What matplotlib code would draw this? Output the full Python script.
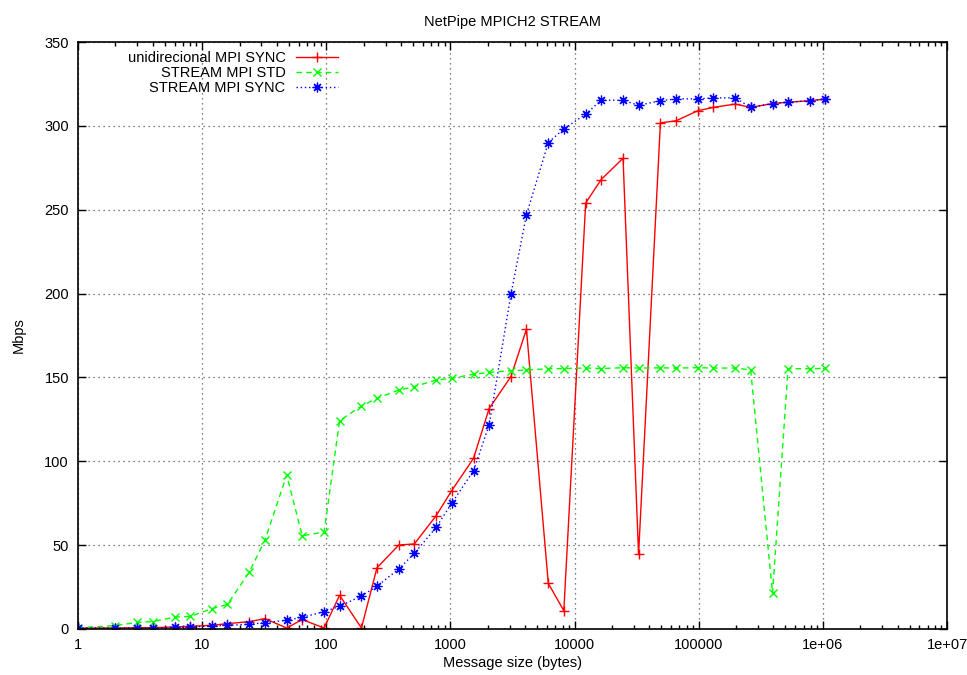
import matplotlib
matplotlib.use("Agg")
import matplotlib.pyplot as plt
from matplotlib.ticker import LogLocator, NullFormatter

plt.rcParams['font.family'] = ['Liberation Sans', 'DejaVu Sans']
plt.rcParams['font.size'] = 10.5

# message sizes (bytes)
sizes = [1, 2, 3, 4, 6, 8, 12, 16, 24, 32, 48, 64, 96, 128, 192, 256, 384, 512,
         768, 1024, 1536, 2048, 3072, 4096, 6144, 8192, 12288, 16384, 24576,
         32768, 49152, 65536, 98304, 131072, 196608, 262144, 393216, 524288,
         786432, 1048576]

# Mbps
uni_sync = [0.6, 0.6, 0.8, 0.8, 1.2, 1.6, 2.2, 3.2, 4.4, 6.2, 0.6, 5.6, 0.6,
            20.1, 0.6, 36.5, 50.1, 50.7, 67.6, 82.5, 101.8, 131.4, 150.5, 178.7,
            27.2, 10.9, 254.0, 268.0, 280.7, 44.5, 301.8, 303.0, 309.0, 311.0,
            313.0, 311.0, 313.3, 314.1, 315.0, 316.0]
stream_std = [0.8, 2.0, 4.0, 4.4, 7.1, 7.5, 12.1, 14.7, 34.0, 52.9, 91.8, 55.6,
              57.8, 124.2, 133.0, 137.5, 142.5, 144.5, 148.5, 149.5, 151.9, 153.0,
              154.0, 154.4, 155.2, 155.3, 155.6, 155.3, 155.8, 155.6, 155.7, 155.6,
              155.8, 155.6, 155.6, 154.5, 21.3, 155.2, 155.2, 155.4]
stream_sync = [0.6, 0.6, 0.6, 0.6, 1.0, 1.2, 1.8, 2.2, 2.8, 3.8, 5.2, 7.0, 10.3,
               13.5, 19.7, 25.5, 35.8, 45.1, 60.6, 75.0, 94.4, 121.5, 199.5, 247.0,
               290.0, 298.2, 307.0, 315.3, 315.3, 312.2, 315.0, 316.1, 316.1, 316.7,
               316.7, 311.0, 313.3, 314.1, 315.0, 316.0]

xticks = [1, 10, 100, 1000, 10000, 100000, 1000000, 10000000]
xtick_labels = ["1", "10", "100", "1000", "10000", "100000", "1e+06", "1e+07"]
yticks = [0, 50, 100, 150, 200, 250, 300, 350]

fig = plt.figure(figsize=(9.67, 6.75), dpi=100)
ax = fig.add_axes([78 / 967, 1 - 629 / 675, 869 / 967, 587 / 675])

ax.plot(sizes, uni_sync, color='#ff0000', lw=1, ls='-', marker='+', ms=7,
        mew=1, label='unidirecional MPI SYNC')
ax.plot(sizes, stream_std, color='#00ff00', lw=1, ls=(0, (4, 3)), marker='x',
        ms=6, mew=1, label='STREAM MPI STD')
ax.plot(sizes, stream_sync, color='#0000ff', lw=1, ls=(0, (1, 2)),
        marker=(8, 2, 0), ms=7, mew=0.9, label='STREAM MPI SYNC')

ax.set_xscale('log')
ax.set_xlim(1, 1e7)
ax.set_ylim(0, 350)
ax.set_xticks(xticks)
ax.set_xticklabels(xtick_labels)
ax.xaxis.set_minor_locator(LogLocator(base=10, subs=range(2, 10), numticks=20))
ax.xaxis.set_minor_formatter(NullFormatter())
ax.set_yticks(yticks)

ax.tick_params(which='both', direction='in', top=True, right=True, color='black')
ax.tick_params(which='major', length=6, width=1, pad=6.5)
ax.tick_params(which='minor', length=3, width=1)
for s in ax.spines.values():
    s.set_linewidth(1.2)

ax.grid(True, which='major', color='#555555', ls=(0, (1, 3)), lw=0.9)
ax.set_axisbelow(True)

ax.set_title('NetPipe MPICH2 STREAM', fontsize=10.5, pad=11.5)
ax.set_xlabel('Message size (bytes)', labelpad=2.5)
ax.set_ylabel('Mbps', labelpad=13.5)

ax.legend(loc='upper right', bbox_to_anchor=(0.2992, 0.985), frameon=False,
          markerfirst=False, handlelength=2.9, handletextpad=0.7,
          labelspacing=0.085, borderpad=0, borderaxespad=0)

fig.savefig('out.png', dpi=100)
